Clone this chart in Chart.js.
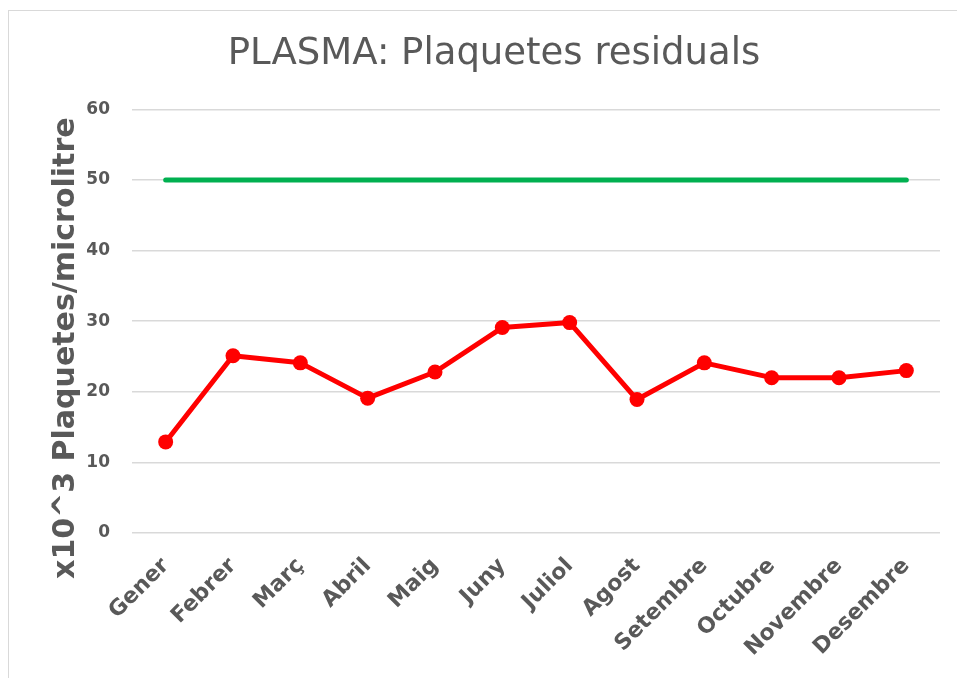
<!DOCTYPE html>
<html>
<head>
<meta charset="utf-8">
<script src="https://cdn.jsdelivr.net/npm/chart.js@4"></script>
<style>
  html, body { margin: 0; padding: 0; background: #fff; }
  #wrap { position: absolute; left: 0; top: 0; width: 957px; height: 678px; }
  #frame { position: absolute; left: 8px; top: 10px; width: 980px; height: 700px; border: 1px solid #d9d9d9; }
</style>
</head>
<body>
<div id="frame"></div>
<div id="wrap"><canvas id="plaquetesChart" width="957" height="678"></canvas></div>
<script>
// dades
const mesos = ['Gener', 'Febrer', 'Març', 'Abril', 'Maig', 'Juny', 'Juliol', 'Agost', 'Setembre', 'Octubre', 'Novembre', 'Desembre'];
const plaquetes = [12.9, 25.1, 24.1, 19.1, 22.8, 29.1, 29.8, 18.9, 24.1, 22.0, 22.0, 23.0];
const limit = [50, 50, 50, 50, 50, 50, 50, 50, 50, 50, 50, 50];
const titolEix = 'x10^3 Plaquetes/microlitre';

const gris = '#595959';

// títol de l'eix Y, una mica més avall que el centre de l'eix (com a l'original)
const titolEixY = {
    id: 'titolEixY',
    afterDraw(chart) {
        const c = chart.ctx;
        const area = chart.chartArea;
        c.save();
        c.translate(66, (area.top + area.bottom) / 2 + 27);
        c.rotate(-Math.PI / 2);
        c.fillStyle = gris;
        c.font = 'bold 30px "DejaVu Sans"';
        c.textAlign = 'center';
        c.textBaseline = 'middle';
        c.fillText(titolEix, 0, 0);
        c.restore();
    }
};

const ctx = document.getElementById('plaquetesChart').getContext('2d');
const plaquetesChart = new Chart(ctx, {
    type: 'line',
    data: {
        labels: mesos,
        datasets: [{
            label: 'Límit',
            data: limit,
            borderColor: '#00b050',
            backgroundColor: '#00b050',
            borderWidth: 5,
            pointRadius: 0,
            borderCapStyle: 'round'
        }, {
            label: 'Plaquetes residuals',
            data: plaquetes,
            borderColor: '#ff0000',
            backgroundColor: '#ff0000',
            borderWidth: 5,
            pointRadius: 7.5,
            pointBorderWidth: 0,
            borderJoinStyle: 'round'
        }]
    },
    options: {
        responsive: false,
        animation: false,
        layout: {
            padding: { left: 48, right: 17, top: 8, bottom: 0 }
        },
        plugins: {
            legend: { display: false },
            tooltip: { enabled: false },
            title: {
                display: true,
                text: 'PLASMA: Plaquetes residuals',
                color: gris,
                font: { family: 'DejaVu Sans', size: 37, weight: 'normal' },
                padding: { top: 24, bottom: 33 }
            }
        },
        scales: {
            x: {
                offset: true,
                grid: { display: false },
                border: { display: false },
                ticks: {
                    color: gris,
                    font: { family: 'DejaVu Sans', size: 22, weight: 'bold' },
                    minRotation: 45,
                    maxRotation: 45,
                    padding: 12
                },
                afterFit: (scale) => { scale.height = 145; }
            },
            y: {
                min: 0,
                max: 60,
                ticks: {
                    stepSize: 10,
                    color: gris,
                    font: { family: 'DejaVu Sans', size: 17, weight: 'bold' },
                    padding: 22
                },
                grid: { color: '#d9d9d9', lineWidth: 1.5, drawTicks: false },
                border: { display: false },
                afterFit: (scale) => { scale.width = 84; }
            }
        }
    },
    plugins: [titolEixY]
});
</script>
</body>
</html>
